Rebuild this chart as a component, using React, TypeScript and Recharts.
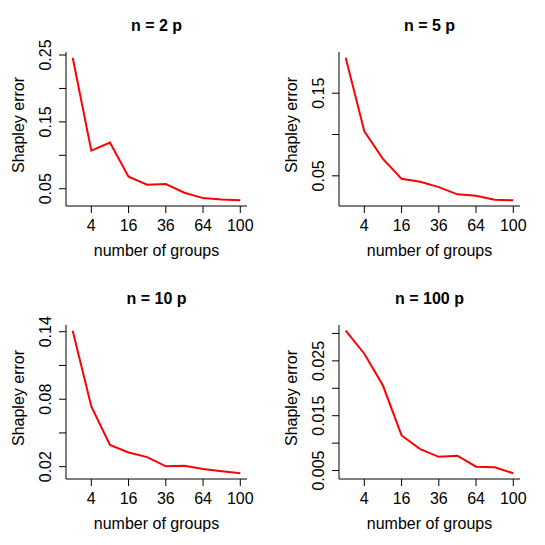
import React from 'react';
import { LineChart, Line, XAxis, YAxis } from 'recharts';

// ---- data ----
const groups = [1, 4, 9, 16, 25, 36, 49, 64, 81, 100];
const xTicks = [4, 16, 36, 64, 100];
const xTickLabels = ['4', '16', '36', '64', '100'];

const titles = ['n = 2 p', 'n = 5 p', 'n = 10 p', 'n = 100 p'];

const errN2 = [0.246, 0.107, 0.119, 0.068, 0.056, 0.057, 0.044, 0.036, 0.034, 0.0327];
const errN5 = [0.193, 0.104, 0.0705, 0.0464, 0.0428, 0.0364, 0.0276, 0.026, 0.0211, 0.0204];
const errN10 = [0.1409, 0.0735, 0.0394, 0.0326, 0.0285, 0.0203, 0.0209, 0.018, 0.0159, 0.0141];
const errN100 = [0.0305, 0.0263, 0.0205, 0.0114, 0.0089, 0.0075, 0.0077, 0.0057, 0.0056, 0.0045];

const yTicksN2 = [0.05, 0.1, 0.15, 0.2, 0.25];
const yLabelsN2 = ['0.05', '', '0.15', '', '0.25'];
const yTicksN5 = [0.05, 0.1, 0.15];
const yLabelsN5 = ['0.05', '', '0.15'];
const yTicksN10 = [0.02, 0.05, 0.08, 0.11, 0.14];
const yLabelsN10 = ['0.02', '', '0.08', '', '0.14'];
const yTicksN100 = [0.005, 0.01, 0.015, 0.02, 0.025, 0.03];
const yLabelsN100 = ['0.005', '', '0.015', '', '0.025', ''];

const xLabel = 'number of groups';
const yLabel = 'Shapley error';

// ---- helpers ----
const FONT = '"Liberation Sans", Arial, Helvetica, sans-serif';
const PANEL = 272.5;
const W = 272;
const H = 272;

const pad = (lo: number, hi: number) => {
  const r = hi - lo;
  return [lo - 0.04 * r, hi + 0.04 * r];
};
const sq = (v: number) => v * v;
const xDomainSqrt = pad(Math.sqrt(groups[0]), Math.sqrt(groups[groups.length - 1]));
const xDomain = [sq(xDomainSqrt[0]), sq(xDomainSqrt[1])];

const findLabel = (ticks: number[], labels: string[], v: number) => {
  const i = ticks.findIndex((t) => Math.abs(t - v) < 1e-9);
  return i >= 0 ? labels[i] : '';
};

const makeYTick = (ticks: number[], labels: string[]) => (props: any) => {
  const { x, y, payload } = props;
  const label = findLabel(ticks, labels, payload.value);
  return (
    <text
      transform={`translate(${x - 12},${y}) rotate(-90)`}
      textAnchor="middle"
      dy="0.35em"
      fontSize={16}
      fontFamily={FONT}
      fill="#000"
    >
      {label}
    </text>
  );
};

const XTick = (props: any) => {
  const { x, y, payload } = props;
  const label = findLabel(xTicks, xTickLabels, payload.value);
  return (
    <text x={x} y={y + 15.7} textAnchor="middle" fontSize={16} fontFamily={FONT} fill="#000">
      {label}
    </text>
  );
};

const XLabelContent = (props: any) => {
  const vb = props.viewBox || {};
  return (
    <text
      x={vb.x + vb.width / 2}
      y={vb.y + 50}
      textAnchor="middle"
      fontSize={16}
      fontFamily={FONT}
      fill="#000"
    >
      {xLabel}
    </text>
  );
};

const YLabelContent = (props: any) => {
  const vb = props.viewBox || {};
  const cy = vb.y + vb.height / 2 - 4;
  return (
    <text
      transform={`translate(23.5,${cy}) rotate(-90)`}
      textAnchor="middle"
      fontSize={16}
      fontFamily={FONT}
      fill="#000"
    >
      {yLabel}
    </text>
  );
};

type PanelProps = {
  title: string;
  values: number[];
  yTicks: number[];
  yLabels: string[];
  left: number;
  top: number;
};

const Panel = ({ title, values, yTicks, yLabels, left, top }: PanelProps) => {
  const data = groups.map((g, i) => ({ groups: g, err: values[i] }));
  const yDomain = pad(Math.min(...values), Math.max(...values));
  const YTick = makeYTick(yTicks, yLabels);
  return (
    <div style={{ position: 'absolute', left, top, width: W, height: H }}>
      <LineChart
        width={W}
        height={H}
        data={data}
        margin={{ top: 52, right: 25, bottom: 0, left: 0 }}
      >
        <XAxis
          dataKey="groups"
          type="number"
          scale="sqrt"
          domain={xDomain}
          ticks={xTicks}
          allowDataOverflow
          height={66}
          tickSize={7}
          tickLine={{ stroke: '#000' }}
          axisLine={{ stroke: '#000' }}
          tick={<XTick />}
          interval={0}
          label={{ value: xLabel, content: XLabelContent }}
        />
        <XAxis
          xAxisId="top"
          orientation="top"
          dataKey="groups"
          type="number"
          scale="sqrt"
          domain={xDomain}
          allowDataOverflow
          height={0}
          tick={false}
          tickLine={false}
          axisLine={{ stroke: '#000' }}
        />
        <YAxis
          type="number"
          domain={yDomain}
          ticks={yTicks}
          allowDataOverflow
          width={66}
          tickSize={7}
          tickLine={{ stroke: '#000' }}
          axisLine={{ stroke: '#000' }}
          tick={<YTick />}
          interval={0}
          label={{ value: yLabel, content: YLabelContent }}
        />
        <YAxis
          yAxisId="right"
          orientation="right"
          type="number"
          domain={yDomain}
          allowDataOverflow
          width={0}
          tick={false}
          tickLine={false}
          axisLine={{ stroke: '#000' }}
        />
        <Line
          dataKey="err"
          stroke="#ff0000"
          strokeWidth={2}
          dot={false}
          activeDot={false}
          isAnimationActive={false}
        />
      </LineChart>
      <svg
        width={W}
        height={H}
        style={{ position: 'absolute', left: 0, top: 0, pointerEvents: 'none' }}
      >
        <text
          x={66 + (W - 66 - 25) / 2}
          y={30.8}
          textAnchor="middle"
          fontSize={16}
          fontWeight="bold"
          fontFamily={FONT}
          fill="#000"
        >
          {title}
        </text>
      </svg>
    </div>
  );
};

export default function App() {
  return (
    <div style={{ position: 'absolute', left: 0, top: 0, width: 545, height: 545, background: '#fff' }}>
      <Panel title={titles[0]} values={errN2} yTicks={yTicksN2} yLabels={yLabelsN2} left={0} top={0} />
      <Panel title={titles[1]} values={errN5} yTicks={yTicksN5} yLabels={yLabelsN5} left={PANEL} top={0} />
      <Panel title={titles[2]} values={errN10} yTicks={yTicksN10} yLabels={yLabelsN10} left={0} top={PANEL} />
      <Panel title={titles[3]} values={errN100} yTicks={yTicksN100} yLabels={yLabelsN100} left={PANEL} top={PANEL} />
    </div>
  );
}
